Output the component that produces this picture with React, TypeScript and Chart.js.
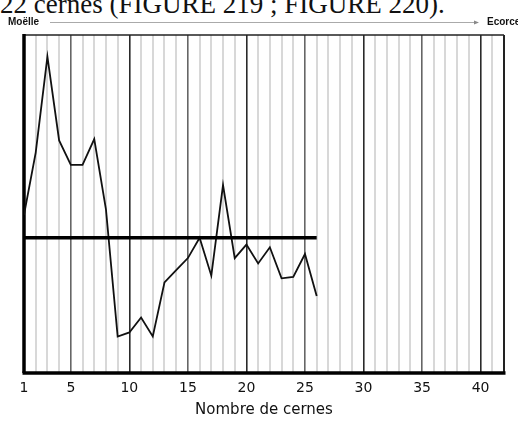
import React, { useEffect, useRef } from "react";
import { Chart, registerables } from "chart.js";

Chart.register(...registerables);

// ---- data ----
const rings = [1, 2, 3, 4, 5, 6, 7, 8, 9, 10, 11, 12, 13, 14, 15, 16, 17, 18, 19, 20, 21, 22, 23, 24, 25, 26];
const widths = [117, 163, 234, 172, 154, 154, 173, 121, 27, 30, 41, 27, 67, 76, 85, 100, 72, 139, 85, 95, 81, 93, 70, 71, 88, 57];
const meanValue = 100;
const meanRange = [1, 26];
const xTickLabels = [1, 5, 10, 15, 20, 25, 30, 35, 40];
const xMin = 1;
const xMax = 42;
const yMin = 0;
const yMax = 250;
const headerLeft = "Moëlle";
const headerRight = "Ecorce";
const xTitle = "Nombre de cernes";
const captionText = "22 cernes (FIGURE 219 ; FIGURE 220).";

const framePlugin = {
  id: "frame",
  beforeDatasetsDraw(chart: any) {
    const { ctx, chartArea } = chart;
    const { left, right, top, bottom } = chartArea;
    ctx.save();
    ctx.strokeStyle = "#222";
    ctx.lineWidth = 1.5;
    ctx.beginPath();
    ctx.moveTo(left, top);
    ctx.lineTo(right, top);
    ctx.stroke();
    ctx.lineWidth = 2;
    ctx.beginPath();
    ctx.moveTo(right, top);
    ctx.lineTo(right, bottom);
    ctx.stroke();
    ctx.strokeStyle = "#000";
    ctx.lineWidth = 3.5;
    ctx.beginPath();
    ctx.moveTo(left, top - 1);
    ctx.lineTo(left, bottom);
    ctx.stroke();
    ctx.beginPath();
    ctx.moveTo(left - 1.5, bottom);
    ctx.lineTo(right + 1.5, bottom);
    ctx.stroke();
    ctx.restore();
  },
  afterDraw(chart: any) {
    const { ctx } = chart;
    ctx.save();
    ctx.fillStyle = "#111";
    ctx.font = "bold 10px 'Liberation Sans'";
    ctx.textBaseline = "middle";
    ctx.textAlign = "left";
    ctx.fillText(headerLeft, 8, 22);
    ctx.fillText(headerRight, 487, 22);
    ctx.strokeStyle = "#aaa";
    ctx.lineWidth = 1;
    ctx.beginPath();
    ctx.moveTo(50, 22.5);
    ctx.lineTo(478, 22.5);
    ctx.stroke();
    ctx.fillStyle = "#888";
    ctx.beginPath();
    ctx.moveTo(479, 22.5);
    ctx.lineTo(474, 20.5);
    ctx.lineTo(474, 24.5);
    ctx.closePath();
    ctx.fill();
    ctx.restore();
  },
};

export default function App() {
  const canvasRef = useRef<HTMLCanvasElement | null>(null);

  useEffect(() => {
    if (!canvasRef.current) return;
    const chart = new Chart(canvasRef.current, {
      type: "line",
      data: {
        datasets: [
          {
            data: rings.map((r, i) => ({ x: r, y: widths[i] })),
            borderColor: "#111",
            borderWidth: 1.8,
            pointRadius: 0,
            tension: 0,
            order: 2,
          },
          {
            data: meanRange.map((x) => ({ x, y: meanValue })),
            borderColor: "#000",
            borderWidth: 3.5,
            pointRadius: 0,
            borderCapStyle: "butt",
            order: 1,
          },
        ],
      },
      options: {
        responsive: false,
        animation: false,
        devicePixelRatio: 1,
        layout: { padding: { left: 24, right: 14, top: 35, bottom: 0 } },
        plugins: { legend: { display: false }, tooltip: { enabled: false } },
        scales: {
          x: {
            type: "linear",
            min: xMin,
            max: xMax,
            afterFit: (s: any) => {
              s.height = 48;
            },
            ticks: {
              stepSize: 1,
              autoSkip: false,
              maxRotation: 0,
              padding: 7,
              color: "#111",
              font: { family: "'DejaVu Sans'", size: 14 },
              callback: (v: any) => (xTickLabels.includes(Number(v)) ? String(v) : ""),
            },
            grid: {
              drawTicks: false,
              color: (c: any) => {
                const v = c.tick ? c.tick.value : 0;
                if (v % 10 === 0) return "#2a2a2a";
                if (v % 5 === 0) return "#666";
                return "#d8d8d8";
              },
              lineWidth: (c: any) => {
                const v = c.tick ? c.tick.value : 0;
                if (v % 5 === 0) return 1.6;
                return 2;
              },
            },
            border: { display: false },
            title: {
              display: true,
              text: xTitle,
              color: "#111",
              font: { family: "'DejaVu Sans'", size: 15 },
              padding: { top: 0, bottom: 2 },
            },
          },
          y: { display: false, min: yMin, max: yMax },
        },
      },
      plugins: [framePlugin],
    } as any);
    return () => chart.destroy();
  }, []);

  return (
    <div style={{ position: "absolute", left: 0, top: 0, width: 518, height: 421, overflow: "hidden", background: "#fff" }}>
      <div
        style={{
          position: "absolute",
          left: 0,
          top: -9,
          fontFamily: "'Liberation Serif', serif",
          fontSize: 27,
          lineHeight: "27px",
          whiteSpace: "nowrap",
          color: "#111",
        }}
      >
        {captionText}
      </div>
      <canvas ref={canvasRef} width={518} height={421} style={{ position: "absolute", left: 0, top: 0 }} />
    </div>
  );
}
